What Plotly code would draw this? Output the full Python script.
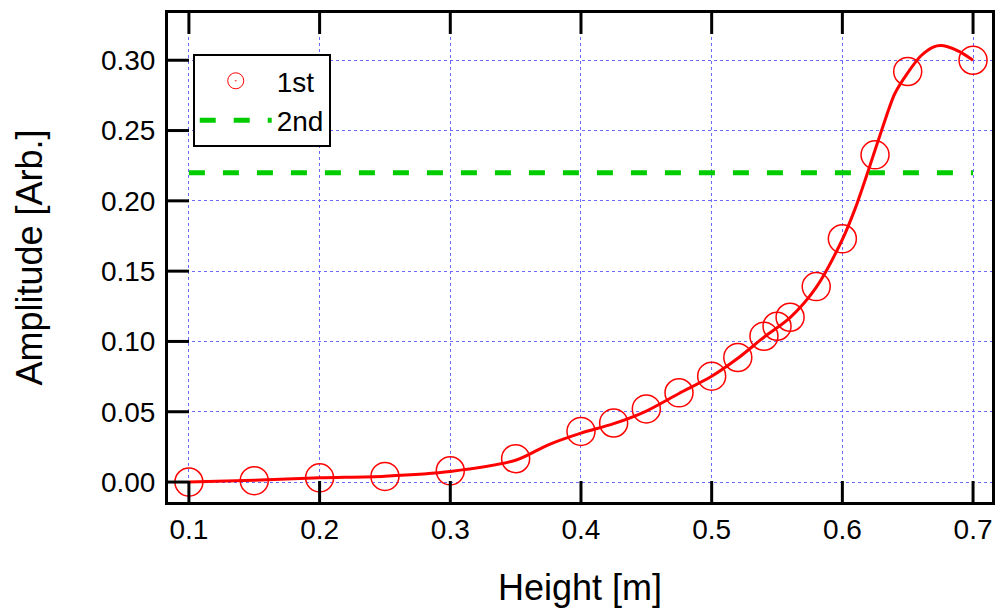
import plotly.graph_objects as go

height_m = [0.1, 0.15, 0.2, 0.25, 0.3, 0.35, 0.4, 0.425, 0.45, 0.475, 0.5,
            0.52, 0.54, 0.55, 0.56, 0.58, 0.6, 0.625, 0.65, 0.7]
amp_1st = [0.000, 0.001, 0.003, 0.004, 0.008, 0.0166, 0.036, 0.042, 0.052, 0.0635, 0.0753,
           0.0886, 0.1037, 0.1108, 0.1172, 0.139, 0.173, 0.2327, 0.292, 0.300]
fit_x = [0.10, 0.15, 0.20, 0.25, 0.30, 0.35, 0.375, 0.40, 0.425, 0.45, 0.475, 0.50,
         0.52, 0.54, 0.56, 0.58, 0.60, 0.61, 0.62, 0.63, 0.64, 0.65, 0.66, 0.67,
         0.675, 0.68, 0.69, 0.70]
fit_y = [0.000, 0.0012, 0.0030, 0.0042, 0.0075, 0.0155, 0.0265, 0.0348, 0.0415, 0.0505,
         0.0630, 0.0752, 0.0880, 0.1030, 0.1170, 0.1385, 0.1725, 0.1950, 0.2220, 0.2500,
         0.2760, 0.2910, 0.3030, 0.3095, 0.3104, 0.3098, 0.3060, 0.3000]
x_2nd = [0.1, 0.7]
amp_2nd = [0.22, 0.22]

xticks = [0.1, 0.2, 0.3, 0.4, 0.5, 0.6, 0.7]
yticks = [0.00, 0.05, 0.10, 0.15, 0.20, 0.25, 0.30]
xrange_ = [0.084, 0.7145]
yrange_ = [-0.0142, 0.3336]

FONT = "Liberation Sans, Arial, sans-serif"
RED = "#ff0000"
W, H = 999, 614
M = dict(l=168, r=4, t=13, b=112)
TICK_LEN = 21  # px, inward frame ticks

fig = go.Figure()
fig.add_trace(go.Scatter(
    x=height_m, y=amp_1st, mode="markers", name="1st", legendgroup="1st", showlegend=False,
    marker=dict(symbol="circle-open", size=28, color=RED, line=dict(color=RED, width=1.5)),
))
fig.add_trace(go.Scatter(
    x=[None], y=[None], mode="markers", name="1st", legendgroup="1st",
    marker=dict(symbol="circle-open-dot", size=20, color=RED, line=dict(color=RED, width=1)),
))
fig.add_trace(go.Scatter(
    x=x_2nd, y=amp_2nd, mode="lines", name="2nd",
    line=dict(color="#00cc00", width=5, dash="16px,18px"),
))
fig.add_trace(go.Scatter(
    x=fit_x, y=fit_y, mode="lines", showlegend=False,
    line=dict(color=RED, width=3, shape="spline", smoothing=0.8),
))

# inward frame ticks as pixel-sized shapes anchored at the tick values
tick_line = dict(color="black", width=3)
for v in xticks:
    fig.add_shape(type="line", xref="x", yref="paper", ysizemode="pixel", yanchor=0,
                  x0=v, x1=v, y0=0, y1=TICK_LEN, line=tick_line, layer="above")
    fig.add_shape(type="line", xref="x", yref="paper", ysizemode="pixel", yanchor=1,
                  x0=v, x1=v, y0=0, y1=-TICK_LEN, line=tick_line, layer="above")
for v in yticks:
    fig.add_shape(type="line", xref="paper", yref="y", xsizemode="pixel", xanchor=0,
                  x0=0, x1=TICK_LEN, y0=v, y1=v, line=tick_line, layer="above")

gridstyle = dict(showgrid=True, gridcolor="rgb(105,105,255)", gridwidth=1, griddash="3px,3px")

fig.update_layout(
    width=W, height=H,
    margin=M,
    plot_bgcolor="white", paper_bgcolor="white",
    font=dict(family=FONT, color="black"),
    xaxis=dict(
        range=xrange_, tickmode="array", tickvals=xticks, ticktext=[f"{v:.1f}" for v in xticks],
        ticks="", showline=True, linecolor="black", linewidth=3, mirror=True,
        zeroline=False, **gridstyle,
        title=dict(text="Height [m]", font=dict(size=36, family=FONT, color="black"), standoff=32),
        tickfont=dict(size=28, family=FONT, color="black"), ticklabelstandoff=0,
    ),
    yaxis=dict(
        range=yrange_, tickmode="array", tickvals=yticks, ticktext=[f"{v:.2f}" for v in yticks],
        ticks="", showline=True, linecolor="black", linewidth=3, mirror=True,
        zeroline=False, **gridstyle,
        title=dict(text="Amplitude [Arb.]", font=dict(size=36, family=FONT, color="black"), standoff=48),
        tickfont=dict(size=28, family=FONT, color="black"), ticklabelstandoff=4,
    ),
    legend=dict(x=0.03, y=0.916, xanchor="left", yanchor="top", itemwidth=72,
                tracegroupgap=0,
                bordercolor="black", borderwidth=2, bgcolor="white",
                font=dict(size=28, family=FONT, color="black")),
)
fig.write_html("out.html")
